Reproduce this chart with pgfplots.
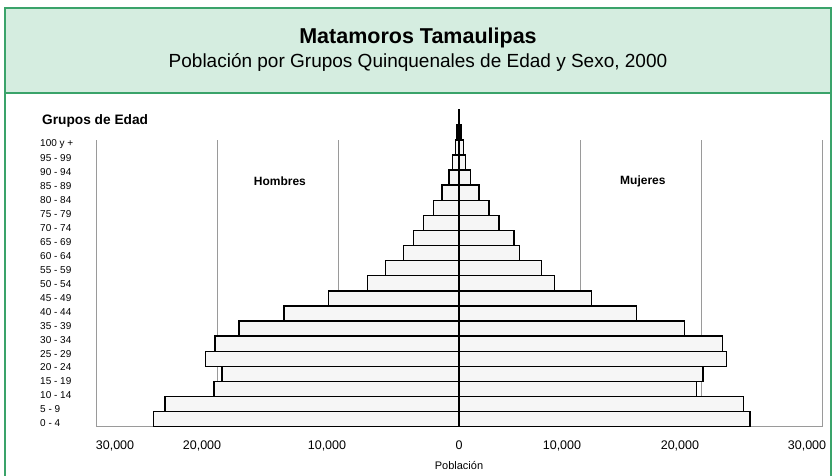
\documentclass[border=0pt]{standalone}
\usepackage{fontspec}
\setmainfont{Liberation Sans}
\usepackage{pgfplots}
\pgfplotsset{compat=1.18}
\definecolor{headfill}{HTML}{D5EDE0}
\definecolor{headgreen}{HTML}{3AA36A}
\definecolor{gridgray}{HTML}{9A9A9A}
\begin{document}
\begin{tikzpicture}[x=1pt,y=1pt]
\useasboundingbox (0,0) rectangle (836,475);
\fill[white] (0,0) rectangle (836,475);
% header
\fill[headfill] (5,382) rectangle (831,467);
\draw[headgreen, line width=2.5pt] (5,-5) -- (5,467) -- (831,467) -- (831,-5);
\draw[headgreen, line width=2.5pt] (5,382) -- (831,382);
\node[font=\bfseries\fontsize{21.5}{25}\selectfont] at (418,437) {Matamoros Tamaulipas};
\node[font=\fontsize{19}{23}\selectfont] at (418,413) {Población por Grupos Quinquenales de Edad y Sexo, 2000};
\node[font=\bfseries\fontsize{13.7}{16}\selectfont, anchor=west, inner sep=0pt] at (42,354) {Grupos de Edad};
\begin{axis}[
  at={(96pt,48.3pt)}, anchor=south west,
  width=726pt, height=286.7pt, scale only axis,
  xmin=-30000, xmax=30000, ymin=-0.5, ymax=18.49,
  clip=false,
  axis x line*=bottom, axis y line*=left,
  y axis line style={draw=none},
  x axis line style={gridgray, line width=1.2pt, -},
  scaled x ticks=false,
  xtick={-28430,-21240,-10910,0,8510,18260,28760},
  xticklabels={{30,000},{20,000},{10,000},{0},{10,000},{20,000},{30,000}},
  xticklabel style={font=\fontsize{12.5}{14}\selectfont, yshift=-11pt},
  extra x ticks={-30000,-20000,-10000,10000,20000,30000},
  extra x tick labels={},
  extra x tick style={grid=major},
  grid style={gridgray, line width=0.8pt},
  major tick length=0pt,
  ytick={-0.275,0.649,1.573,2.496,3.420,4.344,5.268,6.192,7.115,8.039,8.963,9.887,10.811,11.734,12.658,13.582,14.506,15.430,16.353,17.277,18.201},
  yticklabels={0 - 4,5 - 9,10 - 14,15 - 19,20 - 24,25 - 29,30 - 34,35 - 39,40 - 44,45 - 49,50 - 54,55 - 59,60 - 64,65 - 69,70 - 74,75 - 79,80 - 84,85 - 89,90 - 94,95 - 99,100 y +},
  yticklabel style={anchor=west, inner sep=0pt, xshift=-56pt, font=\fontsize{10}{12}\selectfont},
  xlabel={Población},
  xlabel style={font=\fontsize{11}{13}\selectfont, at={(axis description cs:0.5,0)}, anchor=center, yshift=-38.5pt},
]
\addplot[xbar, bar width=15.1pt, bar shift=0pt, draw=black, line width=1.4pt, fill=gray!7]
  coordinates {(-25260,0) (-24300,1) (-20240,2) (-19600,3) (-20930,4) (-20160,5) (-18170,6) (-14450,7) (-10790,8) (-7550,9) (-6080,10) (-4570,11) (-3740,12) (-2910,13) (-2090,14) (-1390,15) (-840,16) (-560,17) (-290,18) (-150,19) (-30,20)};
\addplot[xbar, bar width=15.1pt, bar shift=0pt, draw=black, line width=1.4pt, fill=gray!7]
  coordinates {(24050,0) (23490,1) (19640,2) (20180,3) (22120,4) (21790,5) (18640,6) (14690,7) (10940,8) (7910,9) (6830,10) (5010,11) (4540,12) (3290,13) (2470,14) (1640,15) (950,16) (540,17) (350,18) (180,19) (50,20)};
\node[font=\bfseries\fontsize{12}{14}\selectfont] at (axis cs:-14800,15.76) {Hombres};
\node[font=\bfseries\fontsize{12}{14}\selectfont] at (axis cs:15200,15.76) {Mujeres};
\end{axis}
\end{tikzpicture}
\end{document}
